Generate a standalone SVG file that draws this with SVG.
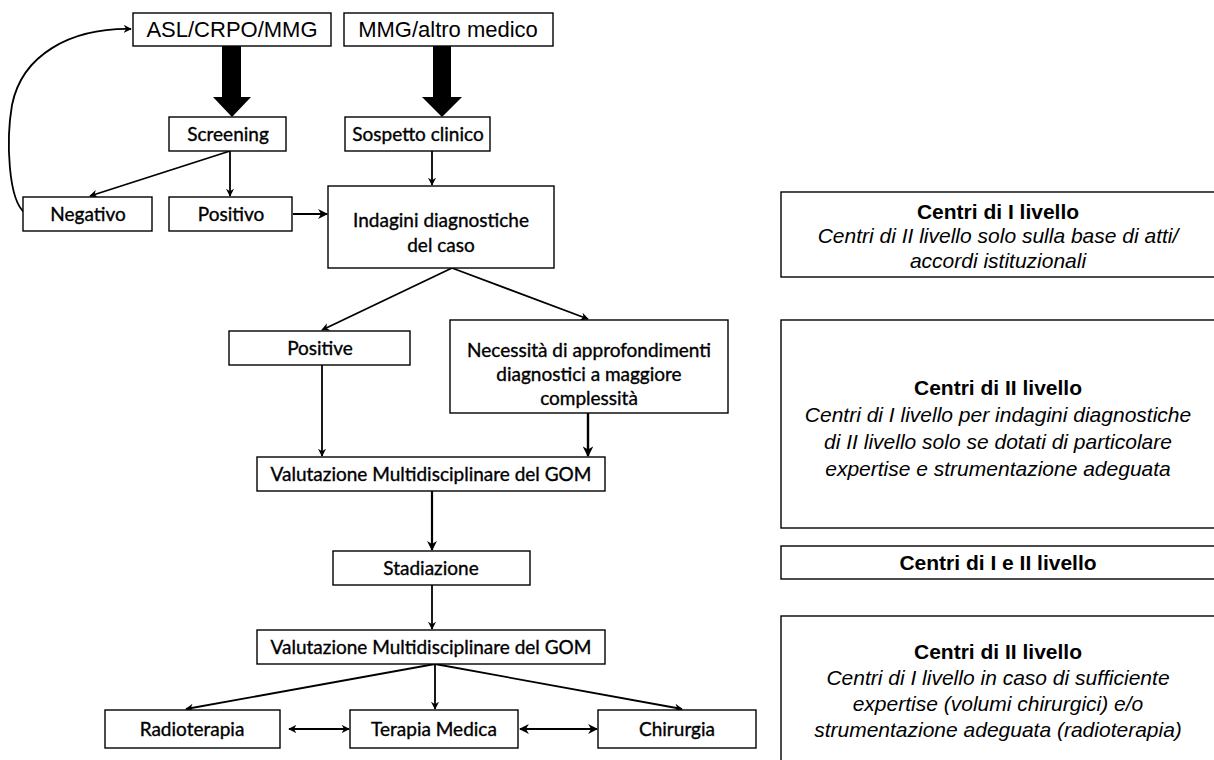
<svg xmlns="http://www.w3.org/2000/svg" width="1214" height="760" viewBox="0 0 1214 760">
  <defs>
    <marker id="ah" viewBox="0 0 10 10" refX="9" refY="5" markerWidth="4.5" markerHeight="4.5" orient="auto-start-reverse" markerUnits="strokeWidth">
      <path d="M0,0 L10,5 L0,10 L3,5 z" fill="#000"/>
    </marker>
    <style>
      .box { fill: #fff; stroke: #000; stroke-width: 1.4; }
      .lbl { font-family: Lato, "Open Sans", "Liberation Sans", sans-serif; font-size: 19px; fill: #000; stroke: #000; stroke-width: 0.35; text-anchor: middle; }
      .top { font-family: "Liberation Sans", Arial, sans-serif; font-size: 22px; fill: #000; text-anchor: middle; }
      .lvl { font-family: "Liberation Sans", Arial, sans-serif; font-size: 21px; fill: #000; text-anchor: middle; }
      .lvl .b { font-weight: bold; }
      .lvl .i { font-style: italic; }
      .ln { fill: none; stroke: #000; stroke-width: 1.8; marker-end: url(#ah); }
      .ln2 { fill: none; stroke: #000; stroke-width: 1.8; marker-start: url(#ah); marker-end: url(#ah); }
    </style>
  </defs>

  <rect width="1214" height="760" fill="#fff"/>

  <!-- flow connectors -->
  <g id="connectors">
    <!-- block arrows from the referring bodies -->
    <path d="M222,46 H241 V97 H251 L232,117 L213,97 H222 Z" fill="#000"/>
    <path d="M433,46 H451 V97 H462 L442,117 L422,97 H433 Z" fill="#000"/>
    <path class="ln" d="M230,151 L90,196"/>
    <path class="ln" d="M230,151 V196"/>
    <path class="ln" d="M25,213 C8,200 6,140 12,105 C22,55 70,28 131,29"/>
    <path class="ln" d="M293,214 H327" style="stroke-width:2.2"/>
    <path class="ln" d="M432,151 V185"/>
    <path class="ln" d="M452,268 L322,330"/>
    <path class="ln" d="M452,268 L588,319"/>
    <path class="ln" d="M322,365 V456"/>
    <path class="ln" d="M588,413 V456" style="stroke-width:2.4"/>
    <path class="ln" d="M432,491 V550" style="stroke-width:2.2"/>
    <path class="ln" d="M432,585 V629"/>
    <path class="ln" d="M435,664 L186,709"/>
    <path class="ln" d="M435,664 V709"/>
    <path class="ln" d="M435,664 L682,709"/>
    <path class="ln2" d="M289,729 H349"/>
    <path class="ln2" d="M520,729 H597" style="stroke-width:2.2"/>
  </g>

  <g id="asl">
    <rect class="box" x="133" y="13" width="198" height="33"/>
    <text class="top" x="232" y="37">ASL/CRPO/MMG</text>
  </g>
  <g id="mmg">
    <rect class="box" x="344" y="13" width="209" height="33"/>
    <text class="top" x="448" y="37">MMG/altro medico</text>
  </g>
  <g id="screening">
    <rect class="box" x="169" y="117" width="117" height="34"/>
    <text class="lbl" x="228" y="141">Screening</text>
  </g>
  <g id="sospetto">
    <rect class="box" x="345" y="117" width="145" height="34"/>
    <text class="lbl" x="418" y="141">Sospetto clinico</text>
  </g>
  <g id="negativo">
    <rect class="box" x="23" y="197" width="129" height="34"/>
    <text class="lbl" x="88" y="221">Negativo</text>
  </g>
  <g id="positivo">
    <rect class="box" x="169" y="197" width="123" height="34"/>
    <text class="lbl" x="231" y="221">Positivo</text>
  </g>
  <g id="indagini">
    <rect class="box" x="328" y="186" width="226" height="82"/>
    <text class="lbl" x="441" y="227">Indagini diagnostiche</text>
    <text class="lbl" x="441" y="252">del caso</text>
  </g>
  <g id="positive">
    <rect class="box" x="229" y="331" width="181" height="34"/>
    <text class="lbl" x="320" y="355">Positive</text>
  </g>
  <g id="necessita">
    <rect class="box" x="450" y="320" width="278" height="93"/>
    <text class="lbl" x="589" y="357">Necessità di approfondimenti</text>
    <text class="lbl" x="589" y="381">diagnostici a maggiore</text>
    <text class="lbl" x="589" y="405">complessità</text>
  </g>
  <g id="gom1">
    <rect class="box" x="257" y="457" width="348" height="34"/>
    <text class="lbl" x="431" y="481">Valutazione Multidisciplinare del GOM</text>
  </g>
  <g id="stadiazione">
    <rect class="box" x="333" y="551" width="197" height="34"/>
    <text class="lbl" x="431" y="575">Stadiazione</text>
  </g>
  <g id="gom2">
    <rect class="box" x="257" y="630" width="348" height="34"/>
    <text class="lbl" x="431" y="654">Valutazione Multidisciplinare del GOM</text>
  </g>
  <g id="radioterapia">
    <rect class="box" x="105" y="710" width="175" height="38"/>
    <text class="lbl" x="192" y="736">Radioterapia</text>
  </g>
  <g id="terapia">
    <rect class="box" x="350" y="710" width="168" height="38"/>
    <text class="lbl" x="434" y="736">Terapia Medica</text>
  </g>
  <g id="chirurgia">
    <rect class="box" x="598" y="710" width="158" height="38"/>
    <text class="lbl" x="677" y="736">Chirurgia</text>
  </g>

  <!-- centre levels, one panel per stage -->
  <g id="level1">
    <rect class="box" x="781" y="192" width="450" height="85"/>
    <text class="lvl" x="998" y="219"><tspan class="b">Centri di I livello</tspan></text>
    <text class="lvl" x="998" y="243"><tspan class="i">Centri di II livello solo sulla base di atti/</tspan></text>
    <text class="lvl" x="998" y="268"><tspan class="i">accordi istituzionali</tspan></text>
  </g>
  <g id="level2">
    <rect class="box" x="781" y="320" width="450" height="208"/>
    <text class="lvl" x="998" y="395"><tspan class="b">Centri di II livello</tspan></text>
    <text class="lvl" x="998" y="422"><tspan class="i">Centri di I livello per indagini diagnostiche</tspan></text>
    <text class="lvl" x="998" y="449"><tspan class="i">di II livello solo se dotati di particolare</tspan></text>
    <text class="lvl" x="998" y="476"><tspan class="i">expertise e strumentazione adeguata</tspan></text>
  </g>
  <g id="level12">
    <rect class="box" x="781" y="546" width="450" height="33"/>
    <text class="lvl" x="998" y="570"><tspan class="b">Centri di I e II livello</tspan></text>
  </g>
  <g id="level2b">
    <rect class="box" x="781" y="616" width="450" height="160"/>
    <text class="lvl" x="998" y="659"><tspan class="b">Centri di II livello</tspan></text>
    <text class="lvl" x="998" y="685"><tspan class="i">Centri di I livello in caso di sufficiente</tspan></text>
    <text class="lvl" x="998" y="711"><tspan class="i">expertise (volumi chirurgici) e/o</tspan></text>
    <text class="lvl" x="998" y="737"><tspan class="i">strumentazione adeguata (radioterapia)</tspan></text>
  </g>
</svg>
